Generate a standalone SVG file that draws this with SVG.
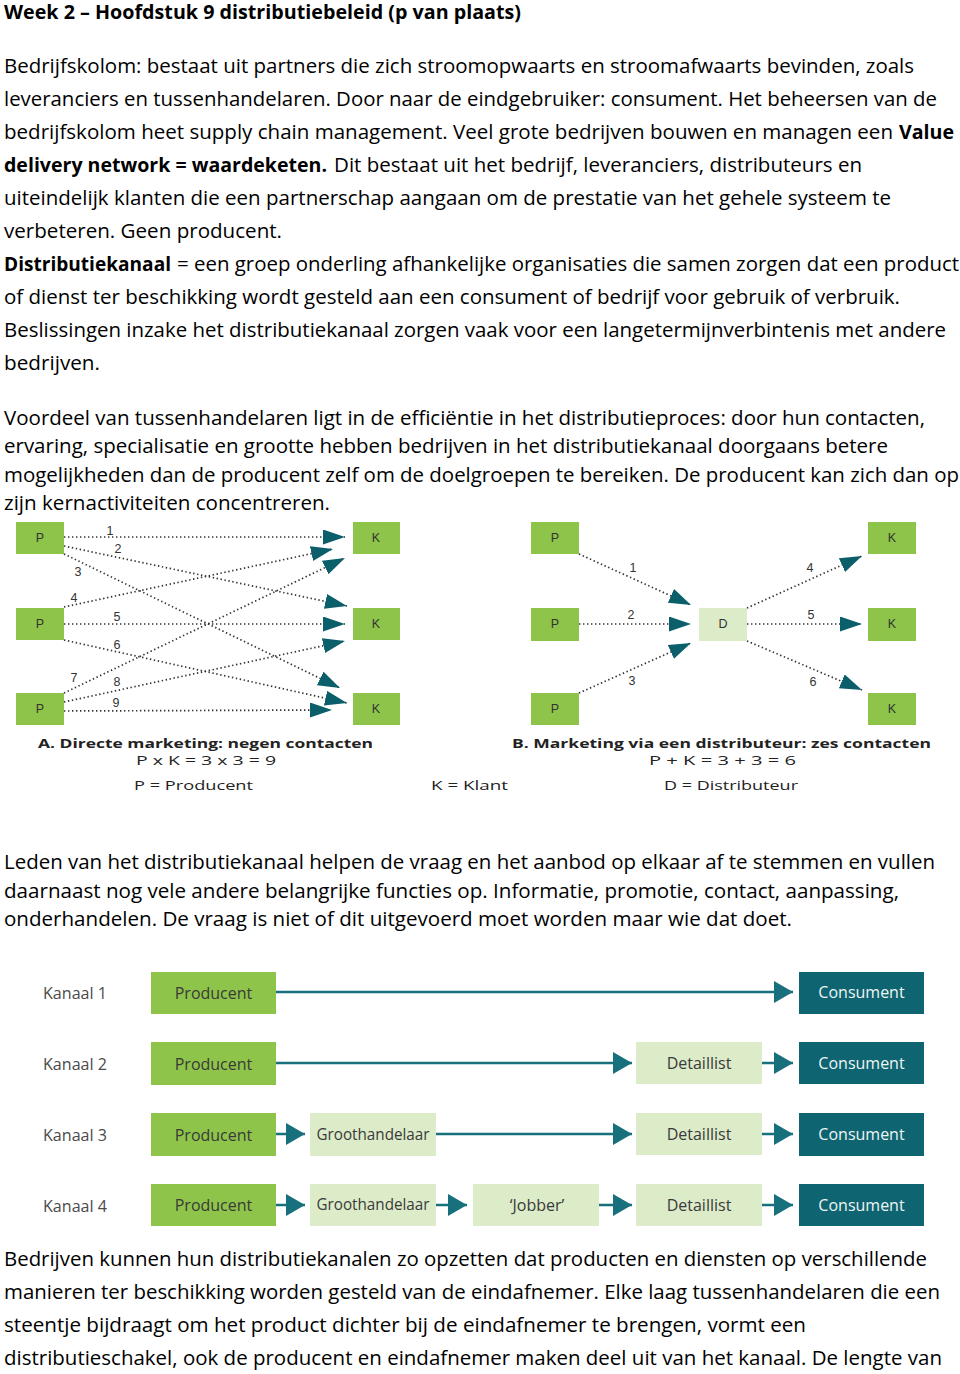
<svg xmlns="http://www.w3.org/2000/svg" width="960" height="1374" viewBox="0 0 960 1374">
<style>
.b{font-family:"Open Sans","Liberation Sans",sans-serif;font-size:19.5px;fill:#000}
.bb{font-family:"Open Sans","Liberation Sans",sans-serif;font-size:19.5px;font-weight:bold;fill:#000}
.dl{font-family:"Liberation Sans",Arial,sans-serif;font-size:12.5px;fill:#333;text-anchor:middle}
.cap{font-family:"Open Sans","Liberation Sans",sans-serif;font-size:12px;fill:#222}
.capb{font-family:"Open Sans","Liberation Sans",sans-serif;font-size:12px;font-weight:bold;fill:#222}
.g{fill:#8dc449}
.lg{fill:#dcebc8}
.t{fill:#0e6470}
.dot{stroke:#333;stroke-width:1.7;stroke-dasharray:1.4 2.6;fill:none}
.ch{stroke:#17707c;stroke-width:2.5;fill:none}
.ct{font-family:"Open Sans","Liberation Sans",sans-serif;font-size:16px;fill:#3a3a3a;text-anchor:middle}
.cw{font-family:"Open Sans","Liberation Sans",sans-serif;font-size:16px;fill:#eef5f5;text-anchor:middle}
.kl{font-family:"Open Sans","Liberation Sans",sans-serif;font-size:15.5px;fill:#4a4a4a}
</style>
<defs>
<marker id="tri" markerUnits="userSpaceOnUse" markerWidth="23" markerHeight="16" refX="22" refY="7.5" orient="auto"><path d="M0,0 L22,7.5 L0,15 z" fill="#0b5f6b"/></marker>
<marker id="ca" markerUnits="userSpaceOnUse" markerWidth="20" markerHeight="23" refX="19" refY="11" orient="auto"><path d="M0,0 L19,11 L0,22 z" fill="#17707c"/></marker>
</defs>
<rect width="960" height="1374" fill="#fff"/>

<g id="text-top">
<text class="bb" x="4" y="19" textLength="517" lengthAdjust="spacingAndGlyphs">Week 2 – Hoofdstuk 9 distributiebeleid (p van plaats)</text>
<text class="b" x="4" y="73" textLength="910" lengthAdjust="spacingAndGlyphs">Bedrijfskolom: bestaat uit partners die zich stroomopwaarts en stroomafwaarts bevinden, zoals</text>
<text class="b" x="4" y="106" textLength="933" lengthAdjust="spacingAndGlyphs">leveranciers en tussenhandelaren. Door naar de eindgebruiker: consument. Het beheersen van de</text>
<text class="b" x="4" y="139" textLength="889" lengthAdjust="spacingAndGlyphs">bedrijfskolom heet supply chain management. Veel grote bedrijven bouwen en managen een</text>
<text class="bb" x="899" y="139" textLength="55" lengthAdjust="spacingAndGlyphs">Value</text>
<text class="bb" x="4" y="172" textLength="323" lengthAdjust="spacingAndGlyphs">delivery network = waardeketen.</text>
<text class="b" x="334" y="172" textLength="528" lengthAdjust="spacingAndGlyphs">Dit bestaat uit het bedrijf, leveranciers, distributeurs en</text>
<text class="b" x="4" y="205" textLength="887" lengthAdjust="spacingAndGlyphs">uiteindelijk klanten die een partnerschap aangaan om de prestatie van het gehele systeem te</text>
<text class="b" x="4" y="238" textLength="278" lengthAdjust="spacingAndGlyphs">verbeteren. Geen producent.</text>
<text class="bb" x="4" y="271" textLength="167" lengthAdjust="spacingAndGlyphs">Distributiekanaal</text>
<text class="b" x="177" y="271" textLength="782" lengthAdjust="spacingAndGlyphs">= een groep onderling afhankelijke organisaties die samen zorgen dat een product</text>
<text class="b" x="4" y="304" textLength="896" lengthAdjust="spacingAndGlyphs">of dienst ter beschikking wordt gesteld aan een consument of bedrijf voor gebruik of verbruik.</text>
<text class="b" x="4" y="337" textLength="942" lengthAdjust="spacingAndGlyphs">Beslissingen inzake het distributiekanaal zorgen vaak voor een langetermijnverbintenis met andere</text>
<text class="b" x="4" y="370" textLength="96" lengthAdjust="spacingAndGlyphs">bedrijven.</text>
<text class="b" x="4" y="425" textLength="921" lengthAdjust="spacingAndGlyphs">Voordeel van tussenhandelaren ligt in de efficiëntie in het distributieproces: door hun contacten,</text>
<text class="b" x="4" y="453" textLength="884" lengthAdjust="spacingAndGlyphs">ervaring, specialisatie en grootte hebben bedrijven in het distributiekanaal doorgaans betere</text>
<text class="b" x="4" y="482" textLength="955" lengthAdjust="spacingAndGlyphs">mogelijkheden dan de producent zelf om de doelgroepen te bereiken. De producent kan zich dan op</text>
<text class="b" x="4" y="510" textLength="326" lengthAdjust="spacingAndGlyphs">zijn kernactiviteiten concentreren.</text>
</g>

<g id="diagram-a">
<g id="a-connectors">
<line class="dot" x1="64" y1="537" x2="345" y2="537" marker-end="url(#tri)"/>
<line class="dot" x1="64" y1="546" x2="347" y2="606" marker-end="url(#tri)"/>
<line class="dot" x1="64" y1="554" x2="340" y2="688" marker-end="url(#tri)"/>
<line class="dot" x1="64" y1="607" x2="333" y2="549" marker-end="url(#tri)"/>
<line class="dot" x1="64" y1="624" x2="345" y2="624" marker-end="url(#tri)"/>
<line class="dot" x1="64" y1="640" x2="347" y2="703" marker-end="url(#tri)"/>
<line class="dot" x1="64" y1="693" x2="345" y2="558" marker-end="url(#tri)"/>
<line class="dot" x1="64" y1="702" x2="345" y2="641" marker-end="url(#tri)"/>
<line class="dot" x1="64" y1="711" x2="332" y2="710" marker-end="url(#tri)"/>
<text class="dl" x="110" y="535">1</text>
<text class="dl" x="118" y="553">2</text>
<text class="dl" x="78" y="576">3</text>
<text class="dl" x="74" y="602">4</text>
<text class="dl" x="117" y="621">5</text>
<text class="dl" x="117" y="649">6</text>
<text class="dl" x="74" y="682">7</text>
<text class="dl" x="117" y="686">8</text>
<text class="dl" x="116" y="707">9</text>
</g>
<g id="a-p1"><rect class="g" x="16" y="522" width="48" height="32"/><text class="dl" x="40" y="542">P</text></g>
<g id="a-p2"><rect class="g" x="16" y="608" width="48" height="32"/><text class="dl" x="40" y="628">P</text></g>
<g id="a-p3"><rect class="g" x="16" y="693" width="48" height="32"/><text class="dl" x="40" y="713">P</text></g>
<g id="a-k1"><rect class="g" x="353" y="522" width="47" height="32"/><text class="dl" x="376" y="542">K</text></g>
<g id="a-k2"><rect class="g" x="353" y="608" width="47" height="32"/><text class="dl" x="376" y="628">K</text></g>
<g id="a-k3"><rect class="g" x="353" y="693" width="47" height="32"/><text class="dl" x="376" y="713">K</text></g>
</g>

<g id="diagram-b">
<g id="b-connectors">
<line class="dot" x1="579" y1="554" x2="691" y2="605" marker-end="url(#tri)"/>
<line class="dot" x1="579" y1="624" x2="691" y2="624" marker-end="url(#tri)"/>
<line class="dot" x1="579" y1="693" x2="691" y2="643" marker-end="url(#tri)"/>
<line class="dot" x1="747" y1="608" x2="862" y2="556" marker-end="url(#tri)"/>
<line class="dot" x1="747" y1="624" x2="862" y2="624" marker-end="url(#tri)"/>
<line class="dot" x1="747" y1="641" x2="862" y2="690" marker-end="url(#tri)"/>
<text class="dl" x="633" y="572">1</text>
<text class="dl" x="631" y="619">2</text>
<text class="dl" x="632" y="685">3</text>
<text class="dl" x="810" y="572">4</text>
<text class="dl" x="811" y="619">5</text>
<text class="dl" x="813" y="686">6</text>
</g>
<g id="b-p1"><rect class="g" x="531" y="522" width="48" height="32"/><text class="dl" x="555" y="542">P</text></g>
<g id="b-p2"><rect class="g" x="531" y="608" width="48" height="33"/><text class="dl" x="555" y="628">P</text></g>
<g id="b-p3"><rect class="g" x="531" y="693" width="48" height="32"/><text class="dl" x="555" y="713">P</text></g>
<g id="b-d"><rect class="lg" x="699" y="608" width="48" height="33"/><text class="dl" x="723" y="628">D</text></g>
<g id="b-k1"><rect class="g" x="868" y="522" width="48" height="32"/><text class="dl" x="892" y="542">K</text></g>
<g id="b-k2"><rect class="g" x="868" y="608" width="48" height="33"/><text class="dl" x="892" y="628">K</text></g>
<g id="b-k3"><rect class="g" x="868" y="693" width="48" height="32"/><text class="dl" x="892" y="713">K</text></g>
</g>

<g id="captions">
<text class="capb" x="38" y="748" textLength="335" lengthAdjust="spacingAndGlyphs">A. Directe marketing: negen contacten</text>
<text class="cap" x="136" y="765" textLength="140" lengthAdjust="spacingAndGlyphs">P x K = 3 x 3 = 9</text>
<text class="cap" x="134" y="790" textLength="119" lengthAdjust="spacingAndGlyphs">P = Producent</text>
<text class="cap" x="431" y="790" textLength="77" lengthAdjust="spacingAndGlyphs">K = Klant</text>
<text class="capb" x="512" y="748" textLength="419" lengthAdjust="spacingAndGlyphs">B. Marketing via een distributeur: zes contacten</text>
<text class="cap" x="649" y="765" textLength="147" lengthAdjust="spacingAndGlyphs">P + K = 3 + 3 = 6</text>
<text class="cap" x="664" y="790" textLength="134" lengthAdjust="spacingAndGlyphs">D = Distributeur</text>
</g>

<g id="text-mid">
<text class="b" x="4" y="869" textLength="931" lengthAdjust="spacingAndGlyphs">Leden van het distributiekanaal helpen de vraag en het aanbod op elkaar af te stemmen en vullen</text>
<text class="b" x="4" y="898" textLength="895" lengthAdjust="spacingAndGlyphs">daarnaast nog vele andere belangrijke functies op. Informatie, promotie, contact, aanpassing,</text>
<text class="b" x="4" y="926" textLength="788" lengthAdjust="spacingAndGlyphs">onderhandelen. De vraag is niet of dit uitgevoerd moet worden maar wie dat doet.</text>
</g>

<g id="channels">
<g id="channel-connectors">
<line class="ch" x1="276" y1="992" x2="793" y2="992" marker-end="url(#ca)"/>
<line class="ch" x1="276" y1="1063" x2="632" y2="1063" marker-end="url(#ca)"/>
<line class="ch" x1="762" y1="1063" x2="793" y2="1063" marker-end="url(#ca)"/>
<line class="ch" x1="276" y1="1134" x2="305" y2="1134" marker-end="url(#ca)"/>
<line class="ch" x1="436" y1="1134" x2="632" y2="1134" marker-end="url(#ca)"/>
<line class="ch" x1="762" y1="1134" x2="793" y2="1134" marker-end="url(#ca)"/>
<line class="ch" x1="276" y1="1205" x2="305" y2="1205" marker-end="url(#ca)"/>
<line class="ch" x1="436" y1="1205" x2="467" y2="1205" marker-end="url(#ca)"/>
<line class="ch" x1="599" y1="1205" x2="632" y2="1205" marker-end="url(#ca)"/>
<line class="ch" x1="762" y1="1205" x2="793" y2="1205" marker-end="url(#ca)"/>
</g>
<g id="row-labels">
<text class="kl" x="43" y="999" textLength="64" lengthAdjust="spacingAndGlyphs">Kanaal 1</text>
<text class="kl" x="43" y="1070" textLength="64" lengthAdjust="spacingAndGlyphs">Kanaal 2</text>
<text class="kl" x="43" y="1141" textLength="64" lengthAdjust="spacingAndGlyphs">Kanaal 3</text>
<text class="kl" x="43" y="1212" textLength="64" lengthAdjust="spacingAndGlyphs">Kanaal 4</text>
</g>
<g id="k1-producent"><rect class="g" x="151" y="972" width="125" height="42"/><text class="ct" x="213.5" y="999">Producent</text></g>
<g id="k1-consument"><rect class="t" x="799" y="972" width="125" height="42"/><text class="cw" x="861.5" y="998">Consument</text></g>
<g id="k2-producent"><rect class="g" x="151" y="1042" width="125" height="43"/><text class="ct" x="213.5" y="1070">Producent</text></g>
<g id="k2-detaillist"><rect class="lg" x="636" y="1042" width="126" height="42"/><text class="ct" x="699" y="1069">Detaillist</text></g>
<g id="k2-consument"><rect class="t" x="799" y="1042" width="125" height="42"/><text class="cw" x="861.5" y="1069">Consument</text></g>
<g id="k3-producent"><rect class="g" x="151" y="1113" width="125" height="43"/><text class="ct" x="213.5" y="1141">Producent</text></g>
<g id="k3-groothandelaar"><rect class="lg" x="310" y="1113" width="126" height="43"/><text class="ct" x="373" y="1140" textLength="113" lengthAdjust="spacingAndGlyphs">Groothandelaar</text></g>
<g id="k3-detaillist"><rect class="lg" x="636" y="1113" width="126" height="42"/><text class="ct" x="699" y="1140">Detaillist</text></g>
<g id="k3-consument"><rect class="t" x="799" y="1113" width="125" height="43"/><text class="cw" x="861.5" y="1140">Consument</text></g>
<g id="k4-producent"><rect class="g" x="151" y="1184" width="125" height="42"/><text class="ct" x="213.5" y="1211">Producent</text></g>
<g id="k4-groothandelaar"><rect class="lg" x="310" y="1184" width="126" height="42"/><text class="ct" x="373" y="1210" textLength="113" lengthAdjust="spacingAndGlyphs">Groothandelaar</text></g>
<g id="k4-jobber"><rect class="lg" x="473" y="1184" width="126" height="42"/><text class="ct" x="537" y="1211">‘Jobber’</text></g>
<g id="k4-detaillist"><rect class="lg" x="636" y="1184" width="126" height="42"/><text class="ct" x="699" y="1211">Detaillist</text></g>
<g id="k4-consument"><rect class="t" x="799" y="1184" width="125" height="42"/><text class="cw" x="861.5" y="1211">Consument</text></g>
</g>

<g id="text-bottom">
<text class="b" x="4" y="1266" textLength="923" lengthAdjust="spacingAndGlyphs">Bedrijven kunnen hun distributiekanalen zo opzetten dat producten en diensten op verschillende</text>
<text class="b" x="4" y="1299" textLength="936" lengthAdjust="spacingAndGlyphs">manieren ter beschikking worden gesteld van de eindafnemer. Elke laag tussenhandelaren die een</text>
<text class="b" x="4" y="1332" textLength="802" lengthAdjust="spacingAndGlyphs">steentje bijdraagt om het product dichter bij de eindafnemer te brengen, vormt een</text>
<text class="b" x="4" y="1365" textLength="938" lengthAdjust="spacingAndGlyphs">distributieschakel, ook de producent en eindafnemer maken deel uit van het kanaal. De lengte van</text>
</g>
</svg>
